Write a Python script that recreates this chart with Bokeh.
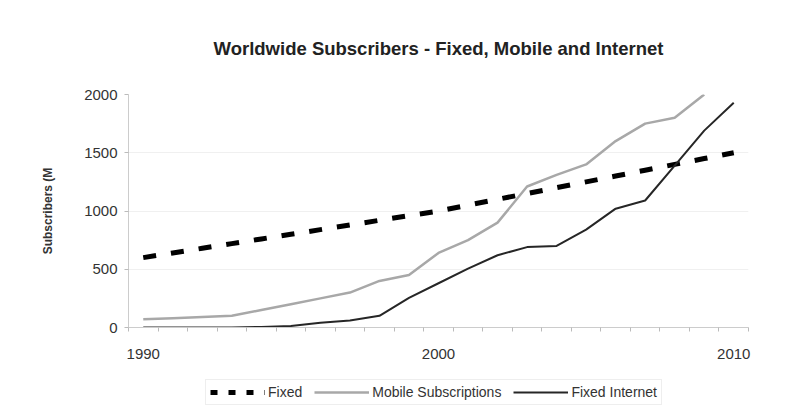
from bokeh.plotting import figure
from bokeh.models import (Range1d, FixedTicker, Legend, LegendItem)
from bokeh.layouts import column
from bokeh.embed import file_html
from bokeh.resources import INLINE

years = list(range(1990, 2011))
fixed = [600, 640, 680, 720, 760, 800, 840, 880, 920, 960, 1000,
         1050, 1100, 1150, 1200, 1250, 1300, 1350, 1400, 1450, 1500]
mobile_years = list(range(1990, 2010))
mobile = [70, 80, 90, 100, 150, 200, 250, 300, 400, 450, 640,
          750, 900, 1210, 1310, 1400, 1600, 1750, 1800, 2000]
internet = [0, 0, 0, 0, 5, 12, 40, 60, 100, 255, 380,
            505, 620, 690, 700, 840, 1020, 1090, 1390, 1690, 1930]
y_ticks = [0, 500, 1000, 1500, 2000]
x_label_ticks = [1990, 2000, 2010]
series_names = ["Fixed", "Mobile Subscriptions", "Fixed Internet"]

FONT = "Liberation Sans"
FIXED_STYLE = dict(line_color="black", line_width=5, line_dash="13 15")
MOBILE_STYLE = dict(line_color="#a8a8a8", line_width=2.5)
INT_STYLE = dict(line_color="#262626", line_width=2)

p = figure(width=800, height=365, output_backend="svg", toolbar_location=None,
           x_range=Range1d(1989.5, 2010.5), y_range=Range1d(0, 2000),
           min_border_left=128, min_border_right=52, min_border_top=91,
           min_border_bottom=38)
p.outline_line_color = None
p.background_fill_color = "white"
p.border_fill_color = "white"

p.title.text = "Worldwide Subscribers - Fixed, Mobile and Internet"
p.title.align = "center"
p.title.text_font = FONT
p.title.text_font_size = "18.5px"
p.title.text_font_style = "bold"
p.title.text_color = "#222222"
p.title.standoff = 71

p.line(years, fixed, **FIXED_STYLE)
p.line(mobile_years, mobile, **MOBILE_STYLE)
p.line(years, internet, **INT_STYLE)

p.xaxis.ticker = FixedTicker(ticks=x_label_ticks,
                             minor_ticks=[y - 0.5 for y in years] + [2010.5])
p.xaxis.major_tick_line_color = None
p.xaxis.minor_tick_line_color = "#bbbbbb"
p.xaxis.minor_tick_out = 4
p.xaxis.minor_tick_in = 0
p.xaxis.axis_line_color = "#cccccc"
p.xaxis.major_label_standoff = 15
p.xaxis.major_label_text_font = FONT
p.xaxis.major_label_text_font_size = "15px"
p.xaxis.major_label_text_color = "#333333"

p.yaxis.ticker = FixedTicker(ticks=y_ticks)
p.yaxis.minor_tick_line_color = None
p.yaxis.major_tick_line_color = "#bbbbbb"
p.yaxis.major_tick_out = 4
p.yaxis.major_tick_in = 0
p.yaxis.axis_line_color = "#cccccc"
p.yaxis.major_label_standoff = 7
p.yaxis.major_label_text_font = FONT
p.yaxis.major_label_text_font_size = "15px"
p.yaxis.major_label_text_color = "#333333"
p.yaxis.axis_label = "Subscribers (M"
p.yaxis.axis_label_text_font = FONT
p.yaxis.axis_label_text_font_size = "12px"
p.yaxis.axis_label_text_font_style = "bold"
p.yaxis.axis_label_text_color = "#333333"
p.yaxis.axis_label_standoff = 26

p.xgrid.grid_line_color = None
p.ygrid.grid_line_color = "#f0f0f0"

# legend strip below the chart (its renderers lie outside its visible range)
lg = figure(width=800, height=46, output_backend="svg", toolbar_location=None,
            x_range=Range1d(0, 1), y_range=Range1d(0, 1),
            x_axis_type=None, y_axis_type=None, min_border=0)
lg.outline_line_color = None
lg.grid.visible = False
lf = lg.line(years, fixed, line_color="black", line_width=5, line_dash="7 11")
lm = lg.line(mobile_years, mobile, **MOBILE_STYLE)
li = lg.line(years, internet, **INT_STYLE)

legend = Legend(items=[LegendItem(label=series_names[0], renderers=[lf]),
                       LegendItem(label=series_names[1], renderers=[lm]),
                       LegendItem(label=series_names[2], renderers=[li])],
                orientation="horizontal", location=(77, 6),
                label_text_font=FONT, label_text_font_size="14px",
                label_text_color="#333333", glyph_width=55, glyph_height=16,
                spacing=12, padding=4, margin=0, label_standoff=3,
                label_height=16,
                border_line_color="#dddddd", background_fill_alpha=1)
lg.add_layout(legend, "center")

layout = column(p, lg, spacing=0)
open("out.html", "w").write(file_html(layout, INLINE))
